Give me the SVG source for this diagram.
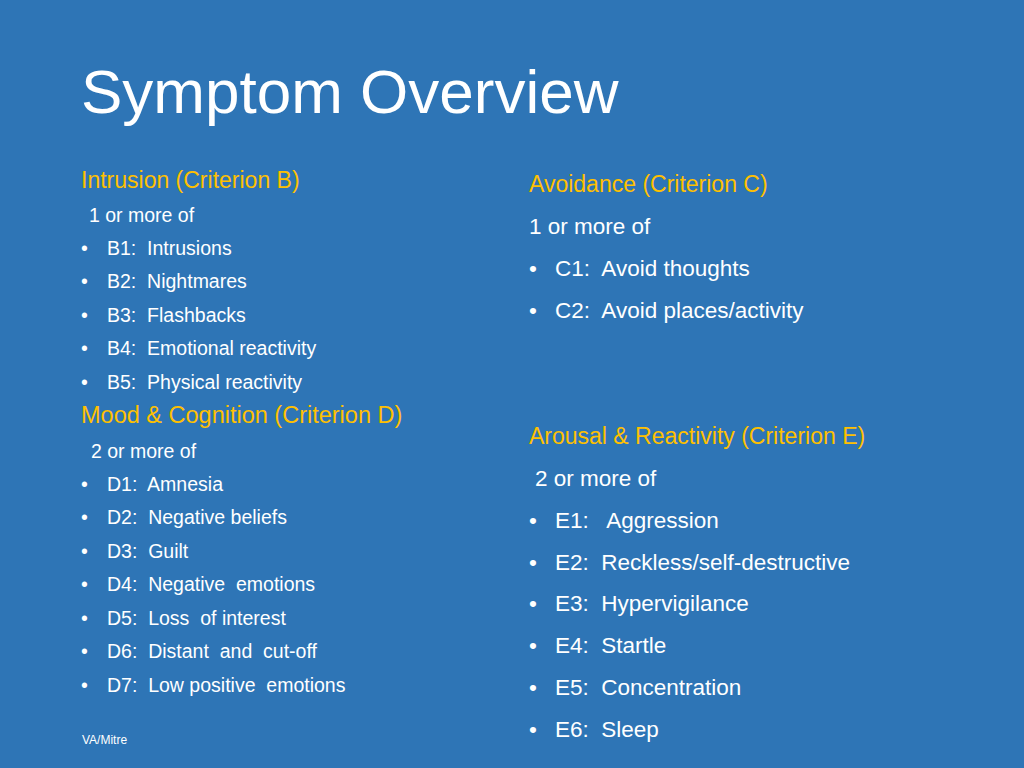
<svg xmlns="http://www.w3.org/2000/svg" width="1024" height="768" viewBox="0 0 1024 768">
<style>
text{font-family:"Liberation Sans",Arial,sans-serif;fill:#fff;white-space:pre}
.l{font-size:19.5px}
.r{font-size:22.5px}
.y{fill:#FFC000}
</style>
<rect width="1024" height="768" fill="#2E75B6"/>
<text x="81" y="113" style="font-size:62px">Symptom Overview</text>
<g class="l">
<text x="81" y="188" class="y" style="font-size:23px">Intrusion (Criterion B)</text>
<text x="89" y="222">1 or more of</text>
<text x="81" y="255">•</text><text x="107" y="255">B1:  Intrusions</text>
<text x="81" y="288">•</text><text x="107" y="288">B2:  Nightmares</text>
<text x="81" y="322">•</text><text x="107" y="322">B3:  Flashbacks</text>
<text x="81" y="355">•</text><text x="107" y="355">B4:  Emotional reactivity</text>
<text x="81" y="389">•</text><text x="107" y="389">B5:  Physical reactivity</text>
<text x="81" y="423" class="y" style="font-size:23.5px">Mood &amp; Cognition (Criterion D)</text>
<text x="91" y="458">2 or more of</text>
<text x="81" y="491">•</text><text x="107" y="491">D1:  Amnesia</text>
<text x="81" y="524">•</text><text x="107" y="524">D2:  Negative beliefs</text>
<text x="81" y="558">•</text><text x="107" y="558">D3:  Guilt</text>
<text x="81" y="591">•</text><text x="107" y="591">D4:  Negative  emotions</text>
<text x="81" y="625">•</text><text x="107" y="625">D5:  Loss  of interest</text>
<text x="81" y="658">•</text><text x="107" y="658">D6:  Distant  and  cut-off</text>
<text x="81" y="692">•</text><text x="107" y="692">D7:  Low positive  emotions</text>
</g>
<g class="r">
<text x="529" y="192" class="y" style="font-size:23px">Avoidance (Criterion C)</text>
<text x="529" y="234">1 or more of</text>
<text x="529" y="276">•</text><text x="555" y="276">C1:  Avoid thoughts</text>
<text x="529" y="318">•</text><text x="555" y="318">C2:  Avoid places/activity</text>
<text x="529" y="444" class="y" style="font-size:23px">Arousal &amp; Reactivity (Criterion E)</text>
<text x="535" y="486">2 or more of</text>
<text x="529" y="528">•</text><text x="555" y="528">E1:   Aggression</text>
<text x="529" y="570">•</text><text x="555" y="570">E2:  Reckless/self-destructive</text>
<text x="529" y="611">•</text><text x="555" y="611">E3:  Hypervigilance</text>
<text x="529" y="653">•</text><text x="555" y="653">E4:  Startle</text>
<text x="529" y="695">•</text><text x="555" y="695">E5:  Concentration</text>
<text x="529" y="737">•</text><text x="555" y="737">E6:  Sleep</text>
</g>
<text x="82" y="744" style="font-size:12px">VA/Mitre</text>
</svg>
